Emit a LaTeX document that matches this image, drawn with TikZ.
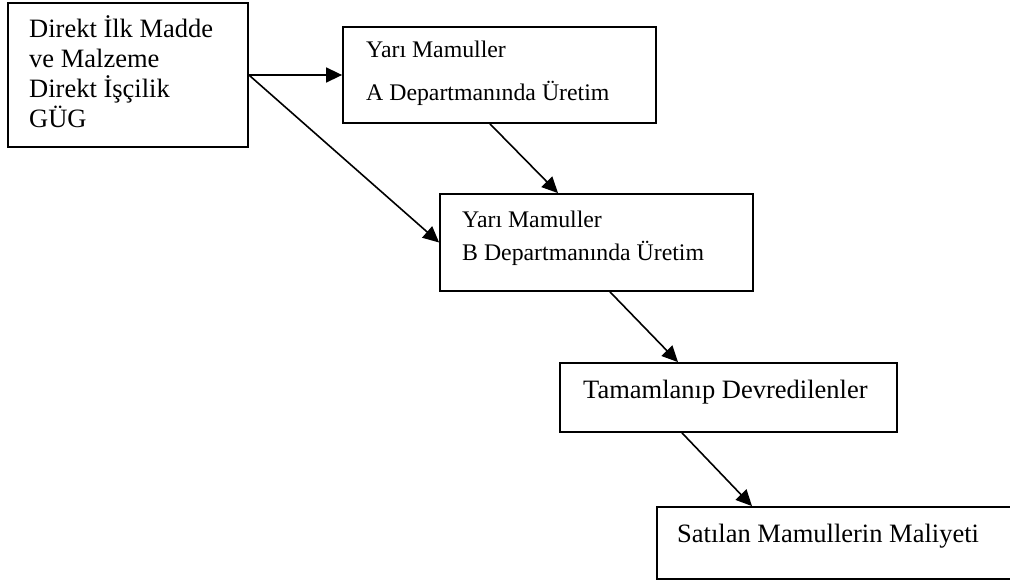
\documentclass[tikz,border=0pt]{standalone}
\usepackage{fontspec}
\setmainfont{Liberation Serif}
\usetikzlibrary{arrows.meta,calc}
\begin{document}
\begin{tikzpicture}[x=1pt,y=-1pt,
  box/.style={draw=black,line width=1.8pt,rectangle,inner sep=0pt,fill=white},
  lbl/.style={anchor=base west,inner sep=0pt,font=\fontsize{26.5}{30}\selectfont},
  lbls/.style={anchor=base west,inner sep=0pt,font=\fontsize{23.8}{28}\selectfont},
  flow/.style={line width=1.6pt,-{Triangle[length=16pt,width=15pt]}}]
  \useasboundingbox[fill=white] (0,0) rectangle (1010,583);

  % boxes
  \node[box,minimum width=240pt,minimum height=144pt] (src) at (128,75) {};
  \node[box,minimum width=313pt,minimum height=96pt] (depA) at (499.5,75) {};
  \node[box,minimum width=313pt,minimum height=97pt] (depB) at (596.5,242.5) {};
  \node[box,minimum width=337pt,minimum height=69pt] (done) at (728.5,397.5) {};
  \node[box,minimum width=358pt,minimum height=72pt] (sold) at (836,543) {};

  % texts
  \node[lbl] (t1) at (29,38) {Direkt İlk Madde};
  \node[lbl] (t2) at (29,68) {ve Malzeme};
  \node[lbl] (t3) at (29,98) {Direkt İşçilik};
  \node[lbl] (t4) at (29,128) {GÜG};
  \node[lbls] (ta1) at (366,58) {Yarı Mamuller};
  \node[lbls] (ta2) at (366,101) {A Departmanında Üretim};
  \node[lbls] (tb1) at (462,227) {Yarı Mamuller};
  \node[lbls] (tb2) at (462,260) {B Departmanında Üretim};
  \node[lbl] (tt) at (583,398) {Tamamlanıp Devredilenler};
  \node[lbl] (ts) at (677,542) {Satılan Mamullerin Maliyeti};

  % flows
  \draw[flow] (src.east) -- (depA.west);
  \draw[flow] (src.east) -- (depB.west);
  \draw[flow] ([xshift=-9.5pt]depA.south) -- ([xshift=-38.5pt]depB.north);
  \draw[flow] ([xshift=13.5pt]depB.south) -- ([xshift=-50.5pt]done.north);
  \draw[flow] ([xshift=-46.5pt]done.south) -- ([xshift=-84pt]sold.north);
\end{tikzpicture}
\end{document}
